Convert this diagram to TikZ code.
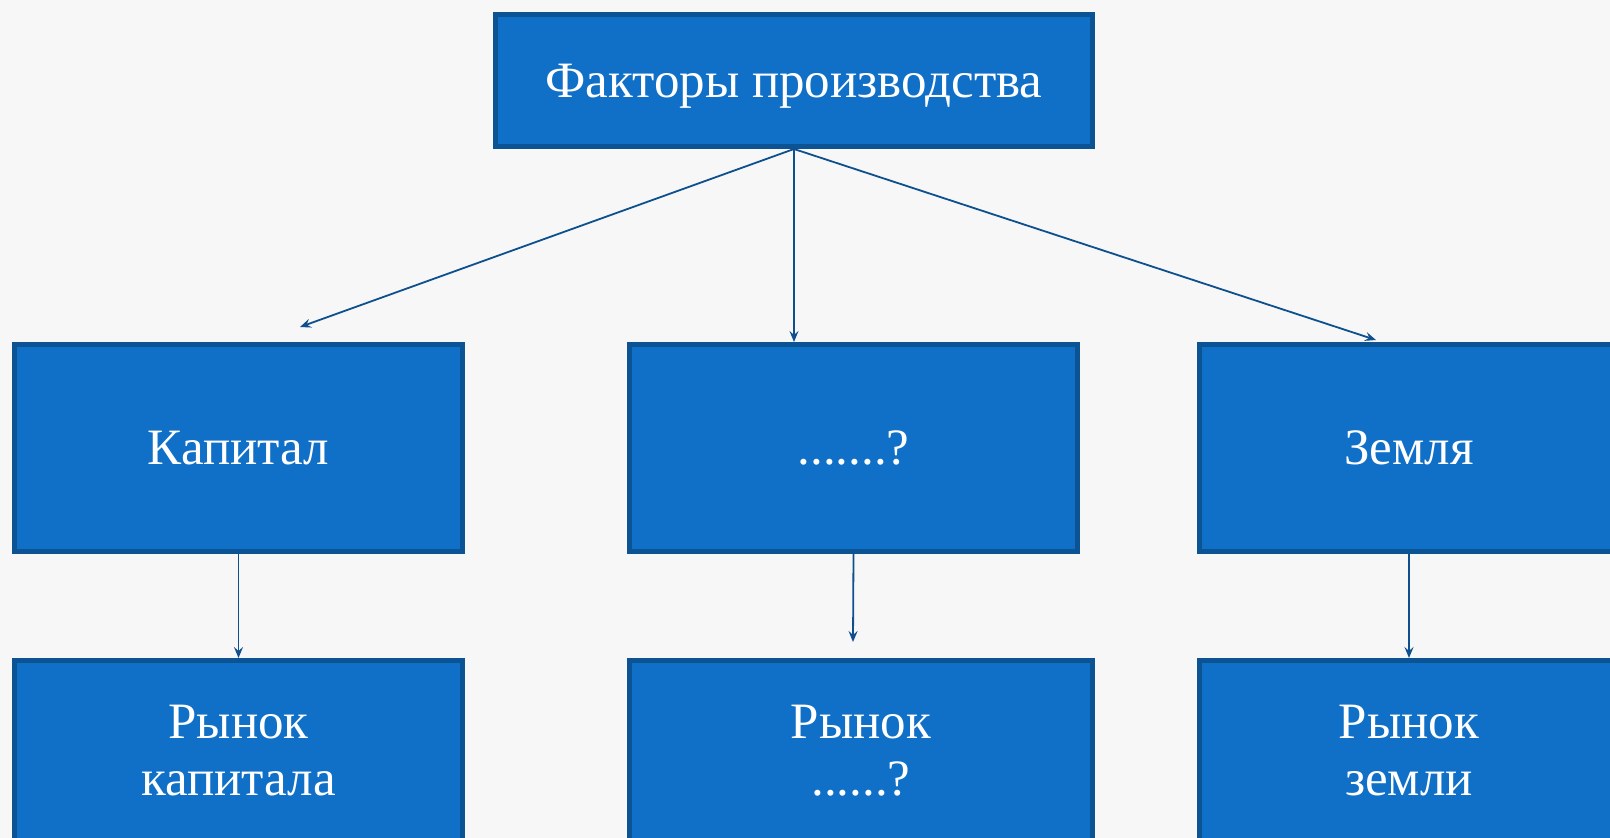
\documentclass[tikz,border=0pt]{standalone}
\usepackage{fontspec}
\setmainfont{Liberation Serif}
\usetikzlibrary{arrows.meta}
\definecolor{boxfill}{HTML}{106FC6}
\definecolor{boxline}{HTML}{0C5394}
\definecolor{arrcol}{HTML}{0E4F8E}
\definecolor{bgcol}{HTML}{F7F7F7}
\tikzset{
  box/.style={draw=boxline, fill=boxfill, line width=5pt, text=white,
    font=\fontsize{51}{57}\selectfont, align=center, inner sep=0pt},
  conn/.style={draw=arrcol, line width=1.8pt,
    -{Stealth[length=11pt,width=9pt,inset=4pt]}}
}
\begin{document}
\begin{tikzpicture}[x=1pt,y=-1pt]
\fill[bgcol] (0,0) rectangle (1610,838);
\useasboundingbox (0,0) rectangle (1610,838);
\node[box, minimum width=597, minimum height=132, text depth=0pt] (top) at (794,80.5) {Факторы производства};
\node[box, minimum width=448, minimum height=207] (kap) at (238.5,448) {Капитал};
\node[box, minimum width=448, minimum height=207] (mid) at (853.5,448) {.......?};
\node[box, minimum width=419, minimum height=207] (zem) at (1409,448) {Земля};
\node[box, minimum width=448, minimum height=181] (rk) at (238.5,751) {Рынок\\капитала};
\node[box, minimum width=463, minimum height=181] (rm) at (861,751) {Рынок\\......?};
\node[box, minimum width=419, minimum height=181] (rz) at (1409,751) {Рынок\\земли};
\coordinate (lend) at (300,327);
\coordinate (mend) at (853,642);
\draw[conn] (top.south) -- (lend);
\draw[conn] (top.south) -- (top.south |- mid.north);
\draw[conn] (top.south) -- (1376,340);
\draw[conn] (kap.south) -- (rk.north);
\draw[conn] (mid.south) -- (mend);
\draw[conn] (zem.south) -- (rz.north);
\end{tikzpicture}
\end{document}
